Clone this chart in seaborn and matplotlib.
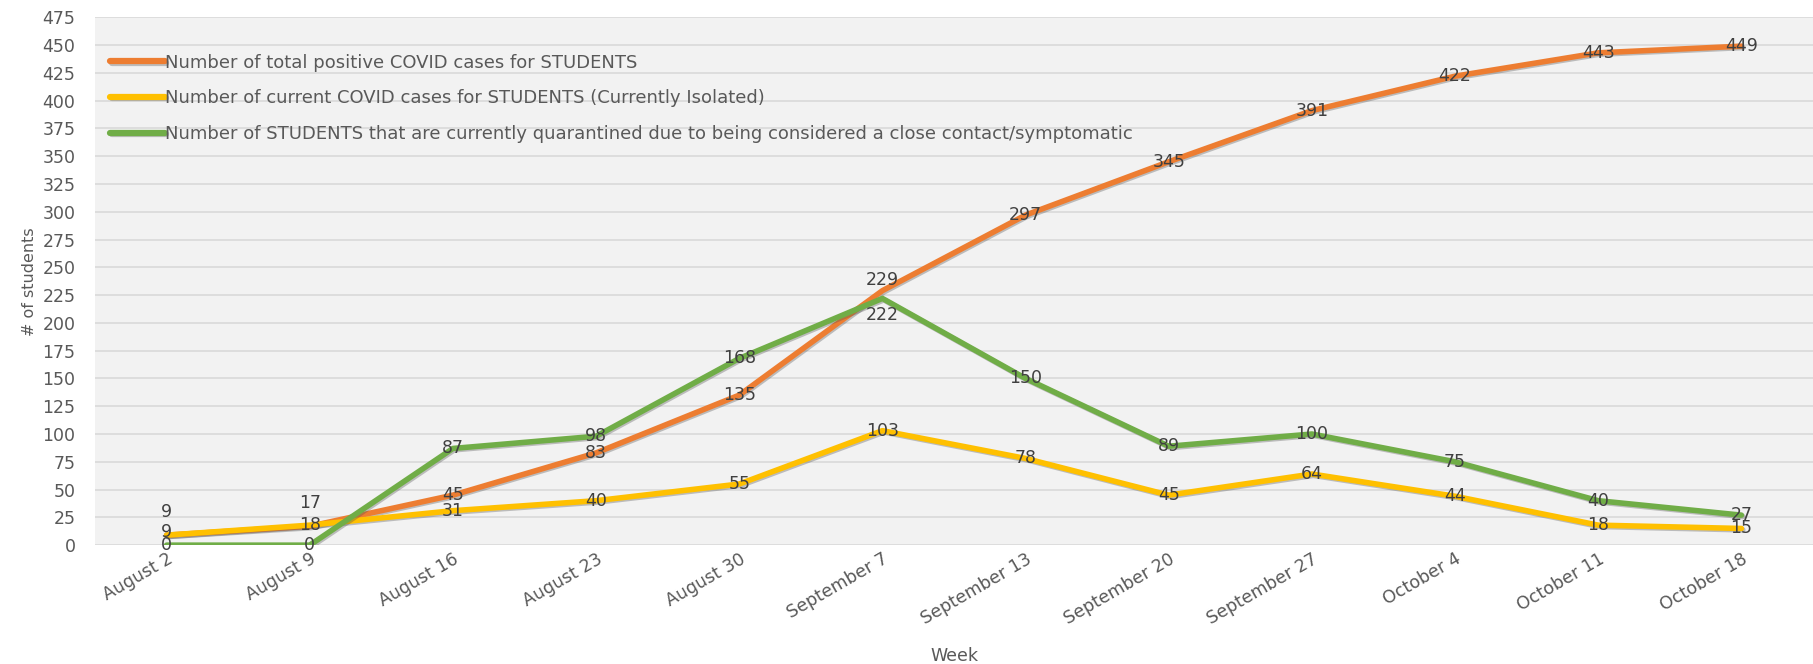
import pandas as pd
import matplotlib
matplotlib.use("Agg")
import matplotlib.pyplot as plt
import matplotlib.patheffects as pe
import seaborn as sns

# weekly student numbers
weeks = ["August 2", "August 9", "August 16", "August 23", "August 30", "September 7",
         "September 13", "September 20", "September 27", "October 4", "October 11", "October 18"]
total_positive = [9, 17, 45, 83, 135, 229, 297, 345, 391, 422, 443, 449]
current_isolated = [9, 18, 31, 40, 55, 103, 78, 45, 64, 44, 18, 15]
quarantined = [0, 0, 87, 98, 168, 222, 150, 89, 100, 75, 40, 27]

names = ["Number of total positive COVID cases for STUDENTS",
         "Number of current COVID cases for STUDENTS (Currently Isolated)",
         "Number of STUDENTS that are currently quarantined due to being considered a close contact/symptomatic"]
colors = ["#ED7D31", "#FFC000", "#70AD47"]
yticks = list(range(0, 476, 25))

sns.set_style("whitegrid", {"axes.facecolor": "#F2F2F2", "grid.color": "#D9D9D9",
                            "axes.edgecolor": "#F2F2F2"})
plt.rcParams["font.family"] = ["DejaVu Sans"]

df = pd.DataFrame({"Week": weeks * 3,
                   "value": total_positive + current_isolated + quarantined,
                   "series": [names[0]] * 12 + [names[1]] * 12 + [names[2]] * 12})

fig = plt.figure(figsize=(18.13, 6.64), dpi=100)
ax = fig.add_axes([0.0524, 0.179, 0.9476, 0.795])

sns.lineplot(data=df, x="Week", y="value", hue="series", hue_order=names,
             palette=colors, linewidth=4, ax=ax, sort=False)
shadow = [pe.SimpleLineShadow(offset=(1, -1), alpha=0.35, shadow_color="#555555"), pe.Normal()]
for ln in ax.get_lines():
    ln.set_path_effects(shadow)
    ln.set_solid_capstyle("round")

# data labels (mostly centred on the point, a few nudged as in the original)
nudge = {(0, 0): 17, (0, 1): 17, (0, 5): 8, (2, 5): -12, (1, 0): 2}
for si, vals in enumerate([total_positive, current_isolated, quarantined]):
    for i, v in enumerate(vals):
        ax.annotate(str(v), (i, v), xytext=(0, nudge.get((si, i), 0)), textcoords="offset points",
                    ha="center", va="center", fontsize=12.5, color="#404040", zorder=5)

ax.set_xlim(-0.5, 11.5)
ax.set_ylim(0, 475)
ax.set_yticks(yticks)
ax.grid(axis="x", visible=False)
ax.grid(axis="y", color="#D9D9D9", linewidth=1.2)
ax.tick_params(axis="both", length=0, labelsize=12.5, labelcolor="#595959")
ax.tick_params(axis="y", pad=14)
plt.setp(ax.get_xticklabels(), rotation=30, ha="right", rotation_mode="anchor")
ax.set_xlabel("Week", fontsize=12.5, color="#595959", labelpad=14)
ax.set_ylabel("# of students", fontsize=11.5, color="#595959", labelpad=4)
for s in ax.spines.values():
    s.set_visible(False)

leg = ax.legend(loc="upper left", bbox_to_anchor=(0.009, 0.931), frameon=False,
                fontsize=13, handlelength=3.0, handletextpad=0.0, labelspacing=0.98,
                borderpad=0, borderaxespad=0)
for h in leg.get_lines():
    h.set_linewidth(4.5)
    h.set_solid_capstyle("round")
for t in leg.get_texts():
    t.set_color("#595959")

fig.savefig("out.png", dpi=100, facecolor="white")
